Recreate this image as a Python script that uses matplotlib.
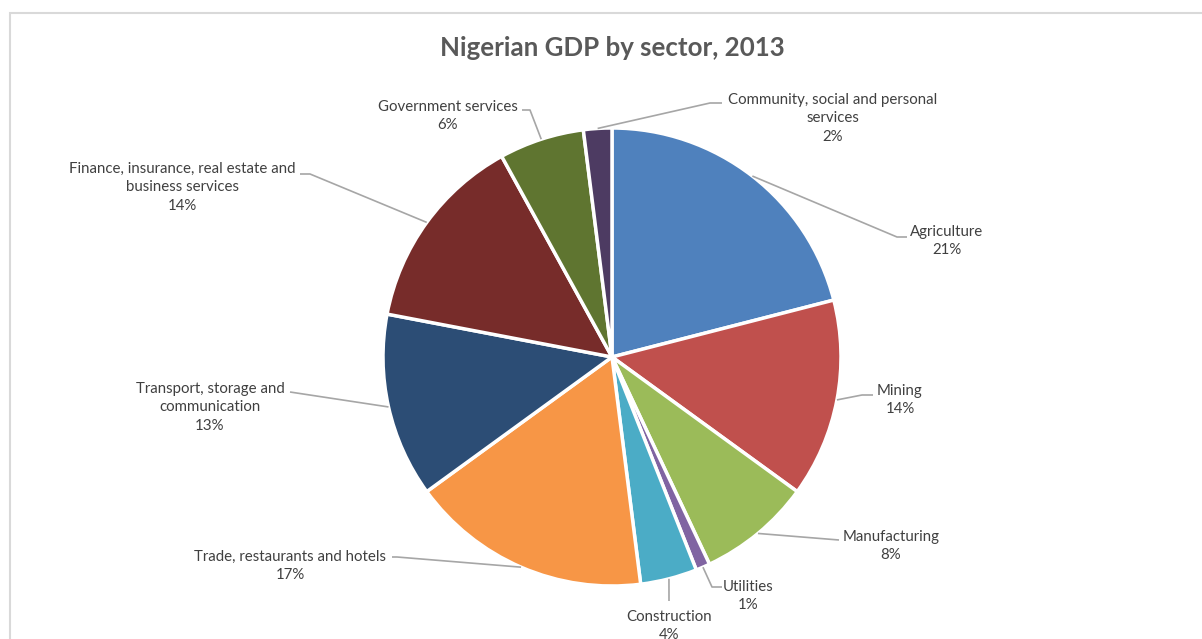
import matplotlib
matplotlib.use("Agg")
import matplotlib.pyplot as plt
from matplotlib.patches import Rectangle
import numpy as np

# sector shares, 2013 (percent)
sectors = ["Agriculture", "Mining", "Manufacturing", "Utilities", "Construction",
           "Trade, restaurants and hotels", "Transport, storage and\ncommunication",
           "Finance, insurance, real estate and\nbusiness services",
           "Government services", "Community, social and personal\nservices"]
shares = [21, 14, 8, 1, 4, 17, 13, 14, 6, 2]
colors = ["#4F81BD", "#C0504D", "#9BBB59", "#8064A2", "#4BACC6",
          "#F79646", "#2C4D75", "#772C2A", "#5F7530", "#4D3B62"]

W, H = 1202, 639
cx, cy, R = 612, 357, 229   # pie centre / radius in pixels (y from top)

# label layout: (elbow x, elbow y, text centre x, first-line y) in pixels from top-left
layout = [
    (907, 237, 947, 231),
    (873, 395, 900, 390),
    (839, 540, 891, 536),
    (722, 587, 748, 586),
    (669, 601, 669, 616),
    (392, 557, 290, 556),
    (290, 392, 210, 388),
    (300, 174, 182, 168),
    (522, 110, 448, 106),
    (722, 103, 833, 99),
]
elbow_dx = [-10, -11, 0, -10, 0, 5, 0, 10, 8, -12]

plt.rcParams["font.family"] = ["Lato", "DejaVu Sans"]

fig = plt.figure(figsize=(W / 100, H / 100), dpi=100)
ax = fig.add_axes([0, 0, 1, 1])
ax.set_xlim(0, W)
ax.set_ylim(0, H)
ax.set_aspect("equal")
ax.axis("off")

# chart frame
ax.add_patch(Rectangle((10, -20), W + 50, H - 13 + 20, fill=False,
                       edgecolor="#D9D9D9", linewidth=1.5))

ax.pie(shares, colors=colors, center=(cx, H - cy), radius=R, startangle=90,
       counterclock=False, wedgeprops=dict(edgecolor="white", linewidth=2.5))
ax.set_xlim(0, W)
ax.set_ylim(0, H)

ax.text(612, H - 48, "Nigerian GDP by sector, 2013", ha="center", va="center",
        fontsize=18.6, fontweight="bold", color="#595959")

total = sum(shares)
start = 0.0
for name, v, (ex, ey, tx, ty), dx in zip(sectors, shares, layout, elbow_dx):
    mid = (start + v / 2) / total * 2 * np.pi
    start += v
    px = cx + R * np.sin(mid)
    py = cy - R * np.cos(mid)
    xs = [px, ex + dx, ex] if dx else [px, ex]
    ys = [py, ey, ey] if dx else [py, ey]
    ax.plot(xs, [H - y for y in ys], color="#A6A6A6", linewidth=1.2,
            solid_capstyle="butt")
    txt = f"{name}\n{v}%"
    ax.text(tx, H - ty + 6, txt, ha="center", va="top", fontsize=10.8,
            color="#404040", linespacing=1.4)

fig.savefig("out.png", dpi=100)
